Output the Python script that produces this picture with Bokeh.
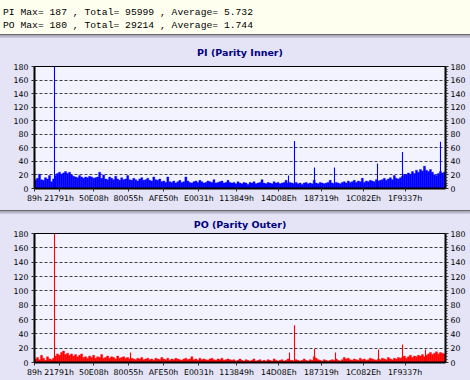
import numpy as np
from bokeh.plotting import figure
from bokeh.models import Range1d, LinearAxis, FixedTicker, SingleIntervalTicker, Div
from bokeh.layouts import column
from bokeh.embed import file_html
from bokeh.resources import INLINE

# ---------------- data ----------------
DISC_END = 2295104  # last LBA of the scan

header_lines = [
    "PI Max= 187 , Total= 95999 , Average= 5.732",
    "PO Max= 180 , Total= 29214 , Average= 1.744",
]

tick_lba = [0x89, 0x21791, 0x50E08, 0x80055, 0xAFE50, 0xE0031,
            0x113849, 0x14D08E, 0x187319, 0x1C082E, 0x1F9337]
tick_labels = ["89h", "21791h", "50E08h", "80055h", "AFE50h", "E0031h",
               "113849h", "14D08Eh", "187319h", "1C082Eh", "1F9337h"]

pi_values = [
    13, 15, 21, 13, 12, 16, 14, 19, 10, 14,
    19, 22, 24, 21, 23, 25, 22, 24, 20,
    18, 17, 16, 19, 17, 15, 17, 16, 18, 17, 15, 16, 17, 24,
    15, 20, 14, 13, 17, 15, 13, 18, 14, 12, 16, 13, 14, 19, 13, 12, 15, 13, 11, 14,
    16, 12, 13, 15, 12, 11, 17, 13, 12, 14,
    10, 11, 9, 17, 10, 9, 11, 8, 10, 12, 9, 10, 17, 11, 9, 8, 10, 11, 9, 12,
    10, 8, 9, 11, 10, 9, 13, 8, 9, 10, 11, 8, 9, 12, 9,
    8, 9, 7, 10, 8, 7, 9, 8, 6, 9, 8, 10, 7, 8, 9, 13, 8, 7, 9, 8,
    7, 10, 8, 9, 7, 8, 9, 12, 8, 9,
    8, 7, 9, 7, 8, 6, 8, 9, 7, 8, 7, 12, 8, 7, 9, 8, 7, 8, 9, 12, 8, 7, 9, 8, 7,
    9, 10, 8, 11, 9, 10, 12, 9, 11, 10, 15, 9, 11, 10, 12, 11, 10, 13, 11, 12,
    13, 15, 12, 14, 16, 13, 19, 15, 14, 16,
    18, 21, 20, 23, 21, 25, 22, 27, 24, 28, 26, 33, 27, 25, 28, 24, 20, 19, 22, 25, 23, 24,
]
pi_spike_lba = [111684, 1418395, 1451900, 1563584, 1675258, 1915383, 2055016, 2267183]
pi_spike_values = [187, 19, 70, 31, 31, 37, 54, 69]

po_values = [
    5, 7, 4, 10, 6, 3, 8, 5, 4, 6,
    9, 12, 10, 14, 16, 11, 13, 10, 12, 9, 11, 8, 10,
    12, 7, 8, 6, 9, 7, 10, 6, 8, 7, 11, 6, 7, 9, 6, 8, 7, 5, 9, 6, 7, 8, 6, 7, 5,
    6, 5, 4, 6, 5, 7, 4, 5, 6, 4, 5, 3, 6, 5, 4, 7, 5, 4, 6, 3, 5, 4, 6, 5, 4,
    3, 5, 6, 4, 5, 8, 4, 5, 3, 6, 4, 5, 4, 3, 5, 6, 4, 3, 5, 4, 6, 3, 4, 5, 4,
    3, 4, 2, 3, 5, 3, 2, 4, 3, 2, 3, 5, 2, 3, 4, 2, 3, 2, 4, 3, 2, 5, 3, 2, 3,
    4, 2, 3, 5, 3,
    3, 2, 4, 3, 2, 3, 5, 3, 2, 4, 3, 8, 6, 4, 3, 2, 4, 3, 2, 3, 4, 3, 5, 3, 2,
    4, 7, 5, 6, 4, 3, 5, 4, 3, 6, 4, 5, 3, 4, 6, 5, 4, 3, 5, 4, 6, 5, 4, 7, 5,
    4, 6, 5, 7, 6,
    7, 9, 6, 8, 10, 7, 9, 8, 10, 9, 11, 8, 10, 12, 14, 11, 13, 15, 12, 14, 13, 12,
]
po_spike_lba = [111684, 536083, 1423979, 1451900, 1563584, 1680842, 1920967, 2055016, 2183418]
po_spike_values = [180, 14, 14, 52, 19, 14, 18, 25, 18]

# ---------------- style ----------------
HEADER_BG = "#FFFFF0"
PANEL_BG = "#E4E4F6"
PLOT_BG = "#F3F3FF"
W = 470


def header():
    html = ('<div style="font-family:\'Liberation Mono\',monospace;font-size:9.7px;'
            'line-height:13px;padding:6px 0 0 3px;white-space:pre;color:#000;margin:0;">'
            + "<br>".join(header_lines) + "</div>")
    return Div(text=html, width=W, height=34,
               styles={"background-color": HEADER_BG, "margin": "0", "padding": "0",
                       "overflow": "hidden"})


def separator():
    return Div(width=W, height=4,
               styles={"background": "linear-gradient(#6c6c6c 0%, #6c6c6c 25%, #a4a4b4 30%, #d0d0e0 100%)",
                       "margin": "0", "padding": "0"})


def panel(title, values, spike_lba, spike_values, color, height, top, bottom, standoff):
    n = len(values)
    step = DISC_END / n
    centers = (np.arange(n) + 0.5) * step
    p = figure(width=W, height=height, title=title,
               x_range=Range1d(0, DISC_END), y_range=Range1d(0, 180),
               min_border_left=34, min_border_right=25,
               min_border_top=top, min_border_bottom=bottom,
               toolbar_location=None, output_backend="svg")
    p.title.align = "center"
    p.title.vertical_align = "middle"
    p.title.standoff = standoff
    p.title.text_font = "DejaVu Sans"
    p.title.text_font_style = "bold"
    p.title.text_font_size = "9.5px"
    p.title.text_color = "#000080"
    p.background_fill_color = PLOT_BG
    p.border_fill_color = PANEL_BG
    p.outline_line_color = "#000000"
    p.outline_line_width = 1

    p.vbar(x=centers, top=values, bottom=0, width=step,
           fill_color=color, line_color=color, line_width=0.4)
    p.vbar(x=spike_lba, top=spike_values, bottom=0, width=DISC_END / 411 * 1.1,
           fill_color=color, line_color=None)

    yt = SingleIntervalTicker(interval=20, num_minor_ticks=5)
    p.yaxis.ticker = yt
    right = LinearAxis(ticker=yt)
    p.add_layout(right, "right")

    p.xaxis.ticker = FixedTicker(ticks=tick_lba)
    p.xaxis.major_label_overrides = {t: l for t, l in zip(tick_lba, tick_labels)}

    for ax in p.axis:
        ax.axis_line_color = "#000000"
        ax.axis_line_width = 2
        ax.major_tick_out = 3
        ax.major_tick_in = 0
        ax.major_tick_line_color = "#303030"
        ax.minor_tick_line_color = None
        ax.major_label_text_font = "DejaVu Sans"
        ax.major_label_text_font_size = "7.8px"
        ax.major_label_text_color = "#000000"
        ax.major_label_standoff = 2
    right.minor_tick_line_color = "#303030"
    right.minor_tick_out = 2
    right.minor_tick_in = 0

    p.xgrid.visible = False
    p.ygrid.ticker = yt
    p.ygrid.grid_line_color = "#404040"
    p.ygrid.grid_line_dash = "3 2"
    p.ygrid.grid_line_width = 1
    return p


pi = panel("PI (Parity Inner)", pi_values, pi_spike_lba, pi_spike_values,
           "#0000FF", 172, 28, 22, 14.6)
po = panel("PO (Parity Outer)", po_values, po_spike_lba, po_spike_values,
           "#FF0000", 166, 19, 18, 4.6)

layout = column(header(), separator(), pi, separator(), po, spacing=0)
layout.styles = {"background": PANEL_BG}

open("out.html", "w").write(file_html(layout, INLINE))
